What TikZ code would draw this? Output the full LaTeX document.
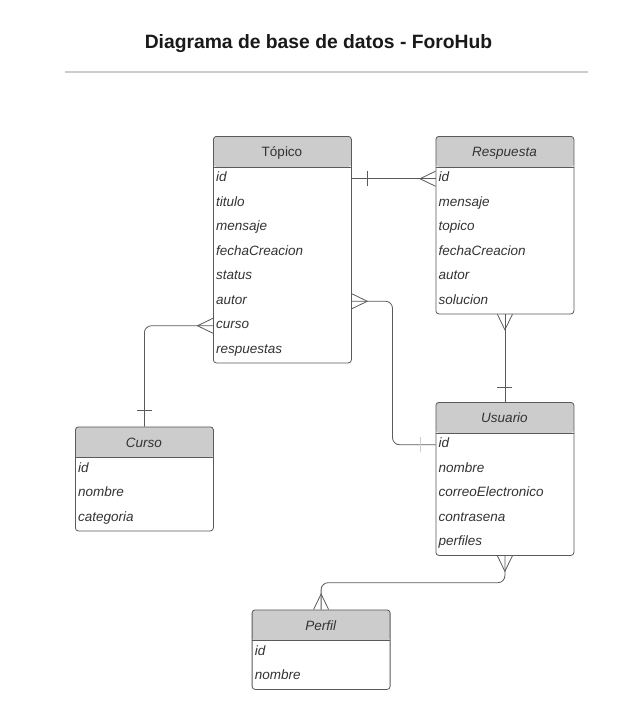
\documentclass[tikz,border=0pt]{standalone}
\usepackage{fontspec}
\setmainfont{Liberation Sans}
\usepackage{tikz}
\usetikzlibrary{arrows,calc}

\definecolor{hdrgray}{HTML}{CCCCCC}
\definecolor{linegray}{HTML}{5A5A5A}
\definecolor{txtgray}{HTML}{333333}
\definecolor{rulegray}{HTML}{C9CDD1}

\tikzset{
  entity/.style={draw=linegray, fill=white, rounded corners=3pt, line width=0.8pt,
    inner sep=0pt, minimum width=138pt, anchor=north west,
    path picture={
      \fill[hdrgray] (path picture bounding box.north west) rectangle ([yshift=-30.5pt]path picture bounding box.north east);
      \draw[linegray, line width=0.8pt] ([yshift=-30.5pt]path picture bounding box.north west) -- ([yshift=-30.5pt]path picture bounding box.north east);
    }},
  entname/.style={font=\fontsize{13.5}{16}\selectfont\itshape, text=txtgray, anchor=base, inner sep=0pt},
  attr/.style={font=\fontsize{13.5}{16}\selectfont\itshape, text=txtgray, anchor=west,
    inner sep=0pt, text height=9pt, text depth=3.5pt},
  rel/.style={draw=linegray, line width=0.8pt},
}

\begin{document}
\begin{tikzpicture}[x=1pt,y=-1pt]
\useasboundingbox (0,0) rectangle (637,721);
\fill[white] (0,0) rectangle (637,721);

\node[font=\fontsize{19.3}{23}\selectfont\bfseries, text=black!90, anchor=base] (title) at (318.5,48.3) {Diagrama de base de datos - ForoHub};
\draw[rulegray, line width=2pt] (65,72) -- (587.5,72);

% tables
\node[entity, minimum height=226.5pt] (topico) at (213,136) {};
\node[entname, font=\fontsize{13.5}{16}\selectfont] (topico-name) at (282,156.5) {Tópico};
\node[attr] (tid) at (216,178.75) {id};
\node[attr] (ttitulo) at (216,203.25) {titulo};
\node[attr] (tmensaje) at (216,227.75) {mensaje};
\node[attr] (tfecha) at (216,252.25) {fechaCreacion};
\node[attr] (tstatus) at (216,276.75) {status};
\node[attr] (tautor) at (216,301.25) {autor};
\node[attr] (tcurso) at (216,325.75) {curso};
\node[attr] (trespuestas) at (216,350.25) {respuestas};

\node[entity, minimum height=177.5pt] (respuesta) at (435.5,136) {};
\node[entname] (respuesta-name) at (504.5,156.5) {Respuesta};
\node[attr] (rid) at (438.5,178.75) {id};
\node[attr] (rmensaje) at (438.5,203.25) {mensaje};
\node[attr] (rtopico) at (438.5,227.75) {topico};
\node[attr] (rfecha) at (438.5,252.25) {fechaCreacion};
\node[attr] (rautor) at (438.5,276.75) {autor};
\node[attr] (rsolucion) at (438.5,301.25) {solucion};

\node[entity, minimum height=104pt] (curso) at (75,426.5) {};
\node[entname] (curso-name) at (144,447) {Curso};
\node[attr] (cid) at (78,469.25) {id};
\node[attr] (cnombre) at (78,493.75) {nombre};
\node[attr] (ccategoria) at (78,518.25) {categoria};

\node[entity, minimum height=153pt] (usuario) at (435.5,402) {};
\node[entname] (usuario-name) at (504.5,422.5) {Usuario};
\node[attr] (uid) at (438.5,444.75) {id};
\node[attr] (unombre) at (438.5,469.25) {nombre};
\node[attr] (ucorreo) at (438.5,493.75) {correoElectronico};
\node[attr] (ucontrasena) at (438.5,518.25) {contrasena};
\node[attr] (uperfiles) at (438.5,542.75) {perfiles};

\node[entity, minimum height=79.5pt] (perfil) at (251.7,609.5) {};
\node[entname] (perfil-name) at (320.7,630) {Perfil};
\node[attr] (pid) at (254.7,652.25) {id};
\node[attr] (pnombre) at (254.7,676.75) {nombre};

% relations
\coordinate (bend) at (392.5,0);
\coordinate (uturn) at (0,582.7);

\draw[rel] (topico.east |- tid) -- (respuesta.west |- rid);
\draw[rel] (topico.east |- tid) ++(15.5,-7.5) -- ++(0,15);
\draw[rel] (respuesta.west |- rid) ++(0,-7.5) -- ++(-15.5,7.5) -- ++(15.5,7.5);

\draw[rel, rounded corners=7pt] (topico.east |- tautor) -| (bend |- uid) -- (usuario.west |- uid);
\draw[rel] (topico.east |- tautor) ++(0,-7.5) -- ++(15.5,7.5) -- ++(-15.5,7.5);
\draw[draw=black!20, line width=0.8pt] (usuario.west |- uid) ++(-15,-7.5) -- ++(0,15);

\draw[rel, rounded corners=7pt] (topico.west |- tcurso) -| (curso.north);
\draw[rel] (topico.west |- tcurso) ++(0,-7.5) -- ++(-15.5,7.5) -- ++(15.5,7.5);
\draw[rel] (curso.north) ++(-7.5,-16) -- ++(15,0);

\draw[rel] (respuesta.south) -- (respuesta.south |- usuario.north);
\draw[rel] (respuesta.south) ++(-7.5,0) -- ++(7.5,15.5) -- ++(7.5,-15.5);
\draw[rel] (usuario.north) ++(-7.5,-15) -- ++(15,0);

\draw[rel, rounded corners=7pt] (usuario.south) -- (usuario.south |- uturn) -- (perfil.north |- uturn) -- (perfil.north);
\draw[rel] (usuario.south) ++(-7.5,0) -- ++(7.5,15.5) -- ++(7.5,-15.5);
\draw[rel] (perfil.north) ++(-7.5,0) -- ++(7.5,-15.5) -- ++(7.5,15.5);
\end{tikzpicture}
\end{document}
